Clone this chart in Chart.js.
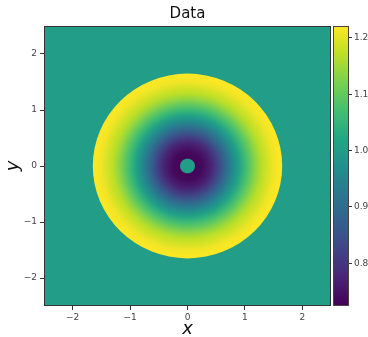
<!DOCTYPE html>
<html>
<head>
<meta charset="utf-8">
<script src="https://cdn.jsdelivr.net/npm/chart.js@4/dist/chart.umd.min.js"></script>
<style>
  html, body { margin: 0; padding: 0; background: #fff; }
  #wrap { position: relative; width: 368px; height: 337px; }
  #main { position: absolute; left: 0; top: 0; }
  #cbar { position: absolute; left: 326px; top: 0; }
</style>
</head>
<body>
<div id="wrap">
  <canvas id="main" width="368" height="337"></canvas>
  <canvas id="cbar" width="42" height="337"></canvas>
</div>
<script>
// ---- data ----
// radial profile of the field (r in data units, value at that radius)
const profileR = [0, 0.12, 0.14, 0.25, 0.4, 0.5, 0.6, 0.7, 0.8, 0.9, 1.0, 1.1, 1.2, 1.3, 1.4, 1.5, 1.6, 1.65];
const profileV = [1.0, 1.0, 0.73, 0.735, 0.77, 0.81, 0.86, 0.91, 0.96, 1.01, 1.06, 1.10, 1.14, 1.17, 1.19, 1.21, 1.22, 1.22];
const outerValue = 1.0;

const axisMin = -2.5;
const axisMax = 2.5;
const xTicks = [-2, -1, 0, 1, 2];
const yTicks = [-2, -1, 0, 1, 2];

const cbMin = 0.724;
const cbMax = 1.221;
const cbTicks = [0.8, 0.9, 1.0, 1.1, 1.2];

// viridis colormap stops
const viridis = ['#440154', '#482475', '#414487', '#355f8d', '#2a788e', '#21918c',
                 '#22a884', '#44bf70', '#7ad151', '#bddf26', '#fde725'];

function hexToRgb(h) {
    return [parseInt(h.slice(1, 3), 16), parseInt(h.slice(3, 5), 16), parseInt(h.slice(5, 7), 16)];
}

function valueColor(v) {
    let t = (v - cbMin) / (cbMax - cbMin);
    t = Math.max(0, Math.min(1, t));
    const pos = t * (viridis.length - 1);
    const i = Math.min(Math.floor(pos), viridis.length - 2);
    const f = pos - i;
    const a = hexToRgb(viridis[i]);
    const b = hexToRgb(viridis[i + 1]);
    const c = a.map((x, k) => Math.round(x + (b[k] - x) * f));
    return `rgb(${c[0]},${c[1]},${c[2]})`;
}

const tickFont = { family: 'DejaVu Sans', size: 9 };
const tickColor = '#444';
const minus = v => String(v).replace('-', '\u2212');

// field drawn through the x/y scales
const fieldPlugin = {
    id: 'field',
    beforeDatasetsDraw(chart) {
        const { ctx, chartArea: a, scales: { x, y } } = chart;
        ctx.save();
        ctx.beginPath();
        ctx.rect(a.left, a.top, a.right - a.left, a.bottom - a.top);
        ctx.clip();
        ctx.fillStyle = valueColor(outerValue);
        ctx.fillRect(a.left, a.top, a.right - a.left, a.bottom - a.top);

        const rMax = profileR[profileR.length - 1];
        const cx = x.getPixelForValue(0);
        const cy = y.getPixelForValue(0);
        const rx = x.getPixelForValue(rMax) - cx;
        const ry = cy - y.getPixelForValue(rMax);
        ctx.translate(cx, cy);
        ctx.scale(1, ry / rx);
        const grad = ctx.createRadialGradient(0, 0, 0, 0, 0, rx);
        profileR.forEach((r, i) => grad.addColorStop(r / rMax, valueColor(profileV[i])));
        ctx.fillStyle = grad;
        ctx.beginPath();
        ctx.arc(0, 0, rx, 0, Math.PI * 2);
        ctx.fill();
        ctx.restore();
    },
    afterDraw(chart) {
        const { ctx, chartArea: a } = chart;
        ctx.save();
        ctx.strokeStyle = '#333';
        ctx.lineWidth = 1;
        ctx.strokeRect(a.left + 0.5, a.top + 0.5, a.right - a.left - 1, a.bottom - a.top - 1);
        // title centred on the plot
        ctx.fillStyle = '#111';
        ctx.font = '15px "DejaVu Sans"';
        ctx.textAlign = 'center';
        ctx.textBaseline = 'middle';
        ctx.fillText('Data', (a.left + a.right) / 2, 14);
        ctx.restore();
    }
};

new Chart(document.getElementById('main'), {
    type: 'scatter',
    data: { datasets: [{ data: [] }] },
    options: {
        responsive: false,
        animation: false,
        events: [],
        layout: { padding: { left: 0, right: 37, top: 26, bottom: 0 } },
        plugins: { legend: { display: false }, tooltip: { enabled: false } },
        scales: {
            x: {
                type: 'linear', min: axisMin, max: axisMax,
                afterBuildTicks: s => { s.ticks = xTicks.map(v => ({ value: v })); },
                afterFit: s => { s.height = 31; },
                ticks: { font: tickFont, color: tickColor, padding: 2, callback: minus },
                grid: { drawOnChartArea: false, drawTicks: true, tickLength: 4, color: '#333' },
                border: { display: false },
                title: { display: true, text: 'x', color: '#111', padding: { top: 0, bottom: -3 },
                         font: { family: 'DejaVu Sans', size: 18, style: 'italic' } }
            },
            y: {
                type: 'linear', min: axisMin, max: axisMax,
                afterBuildTicks: s => { s.ticks = yTicks.map(v => ({ value: v })); },
                afterFit: s => { s.width = 44; },
                ticks: { font: tickFont, color: tickColor, padding: 3, callback: minus },
                grid: { drawOnChartArea: false, drawTicks: true, tickLength: 4, color: '#333' },
                border: { display: false },
                title: { display: true, text: 'y', color: '#111', padding: { top: 3, bottom: 0 },
                         font: { family: 'DejaVu Sans', size: 18, style: 'italic' } }
            }
        }
    },
    plugins: [fieldPlugin]
});

// colour bar
const barPlugin = {
    id: 'bar',
    beforeDatasetsDraw(chart) {
        const { ctx, chartArea: a, scales: { y } } = chart;
        const grad = ctx.createLinearGradient(0, y.getPixelForValue(cbMin), 0, y.getPixelForValue(cbMax));
        viridis.forEach((c, i) => grad.addColorStop(i / (viridis.length - 1), c));
        ctx.save();
        ctx.fillStyle = grad;
        ctx.fillRect(a.left, a.top, a.right - a.left, a.bottom - a.top);
        ctx.strokeStyle = '#444';
        ctx.lineWidth = 1;
        ctx.strokeRect(a.left + 0.5, a.top + 0.5, a.right - a.left - 1, a.bottom - a.top - 1);
        ctx.restore();
    }
};

new Chart(document.getElementById('cbar'), {
    type: 'scatter',
    data: { datasets: [{ data: [] }] },
    options: {
        responsive: false,
        animation: false,
        events: [],
        layout: { padding: { left: 7, right: 0, top: 26, bottom: 31 } },
        plugins: { legend: { display: false }, tooltip: { enabled: false } },
        scales: {
            x: { display: false },
            y: {
                type: 'linear', position: 'right', min: cbMin, max: cbMax,
                afterBuildTicks: s => { s.ticks = cbTicks.map(v => ({ value: v })); },
                afterFit: s => { s.width = 19; },
                ticks: { font: tickFont, color: tickColor, padding: 2, callback: v => v.toFixed(1) },
                grid: { drawOnChartArea: false, drawTicks: true, tickLength: 3, color: '#333' },
                border: { display: false }
            }
        }
    },
    plugins: [barPlugin]
});
</script>
</body>
</html>
